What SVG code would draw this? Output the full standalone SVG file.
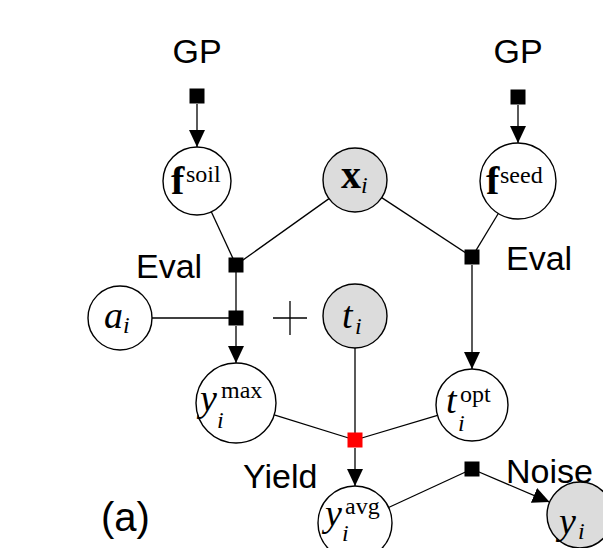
<svg xmlns="http://www.w3.org/2000/svg" width="603" height="548" viewBox="0 0 603 548">
  <style>
    .edge { stroke: #000; stroke-width: 1.3; fill: none; }
    .var { fill: #fff; stroke: #000; stroke-width: 1.4; }
    .obs { fill: #dcdcdc; stroke: #000; stroke-width: 1.4; }
    .fac { fill: #000; }
    .lab { font-family: "Liberation Sans", Arial, sans-serif; font-size: 34px; fill: #000; }
    .mi { font-family: "Liberation Serif", "Times New Roman", serif; font-style: italic; font-size: 38px; fill: #000; }
    .mb { font-family: "Liberation Serif", "Times New Roman", serif; font-weight: bold; font-size: 40px; fill: #000; }
    .sub { font-family: "Liberation Serif", "Times New Roman", serif; font-style: italic; font-size: 24px; fill: #000; }
    .sup { font-family: "Liberation Serif", "Times New Roman", serif; font-size: 24px; fill: #000; }
  </style>
  <defs>
    <marker id="arrow" markerUnits="userSpaceOnUse" markerWidth="17" markerHeight="16" refX="17" refY="8" orient="auto">
      <path d="M0,0 L17,8 L0,16 z" fill="#000"/>
    </marker>
  </defs>
  <rect width="603" height="548" fill="#fff"/>

  <!-- connectors -->
  <g id="edges">
    <line class="edge" x1="197" y1="104" x2="197" y2="147" marker-end="url(#arrow)"/>
    <line class="edge" x1="518" y1="105" x2="518" y2="143" marker-end="url(#arrow)"/>
    <line class="edge" x1="211.3" y1="211.8" x2="236" y2="265"/>
    <line class="edge" x1="329" y1="198.6" x2="236" y2="265"/>
    <line class="edge" x1="381.7" y1="197.6" x2="472" y2="257"/>
    <line class="edge" x1="498.3" y1="213.5" x2="472" y2="257"/>
    <line class="edge" x1="236" y1="265" x2="236" y2="318"/>
    <line class="edge" x1="152" y1="318" x2="236" y2="318"/>
    <line class="edge" x1="236" y1="326" x2="236" y2="363" marker-end="url(#arrow)"/>
    <line class="edge" x1="472" y1="265" x2="472" y2="369" marker-end="url(#arrow)"/>
    <line class="edge" x1="355" y1="348" x2="355" y2="440"/>
    <line class="edge" x1="274.2" y1="414.9" x2="355" y2="440"/>
    <line class="edge" x1="437.5" y1="415.3" x2="355" y2="440"/>
    <line class="edge" x1="355" y1="448" x2="355" y2="486" marker-end="url(#arrow)"/>
    <line class="edge" x1="388.6" y1="507.5" x2="472" y2="469"/>
    <line class="edge" x1="472" y1="469" x2="549.6" y2="502.1" marker-end="url(#arrow)"/>
  </g>

  <!-- factor nodes -->
  <g id="gp-soil"><rect class="fac" x="189.5" y="88.5" width="15" height="15"/><text class="lab" x="197" y="63" text-anchor="middle">GP</text></g>
  <g id="gp-seed"><rect class="fac" x="510.5" y="89.5" width="15" height="15"/><text class="lab" x="518" y="63" text-anchor="middle">GP</text></g>
  <g id="eval-left"><rect class="fac" x="228.5" y="257.5" width="15" height="15"/><text class="lab" x="136" y="278">Eval</text></g>
  <g id="sum"><rect class="fac" x="228.5" y="310.5" width="15" height="15"/>
    <line class="edge" x1="273" y1="318" x2="307" y2="318" stroke-width="1.6"/>
    <line class="edge" x1="290" y1="301" x2="290" y2="335" stroke-width="1.6"/></g>
  <g id="eval-right"><rect class="fac" x="464.5" y="249.5" width="15" height="15"/><text class="lab" x="506" y="270">Eval</text></g>
  <g id="yield"><rect x="347.5" y="432.5" width="15" height="15" fill="#ff0000"/><text class="lab" x="243" y="488">Yield</text></g>
  <g id="noise"><rect class="fac" x="464.5" y="461.5" width="15" height="15"/><text class="lab" x="506" y="483">Noise</text></g>

  <!-- variable nodes -->
  <g id="f-soil"><circle class="var" cx="197" cy="181" r="34"/>
    <text class="mb" x="171" y="194">f</text><text class="sup" x="186" y="182">soil</text></g>
  <g id="x-i"><circle class="obs" cx="355" cy="180" r="32"/>
    <text class="mb" x="341" y="188">x</text><text class="sub" x="361" y="193">i</text></g>
  <g id="f-seed"><circle class="var" cx="518" cy="181" r="38"/>
    <text class="mb" x="486" y="194">f</text><text class="sup" x="500" y="183">seed</text></g>
  <g id="a-i"><circle class="var" cx="120" cy="318" r="32"/>
    <text class="mi" x="104" y="328">a</text><text class="sub" x="123" y="333">i</text></g>
  <g id="t-i"><circle class="obs" cx="355" cy="316" r="32"/>
    <text class="mi" x="342" y="328">t</text><text class="sub" x="355" y="334">i</text></g>
  <g id="y-max"><circle class="var" cx="236" cy="403" r="40"/>
    <text class="mi" x="200" y="411">y</text><text class="sub" x="217" y="428">i</text><text class="sup" x="221" y="398">max</text></g>
  <g id="t-opt"><circle class="var" cx="472" cy="405" r="36"/>
    <text class="mi" x="446" y="413">t</text><text class="sub" x="458" y="431">i</text><text class="sup" x="460" y="402">opt</text></g>
  <g id="y-avg"><circle class="var" cx="355" cy="523" r="37"/>
    <text class="mi" x="325" y="526">y</text><text class="sub" x="342" y="541">i</text><text class="sup" x="345" y="514">avg</text></g>
  <g id="y-i"><circle class="obs" cx="580" cy="515" r="33"/>
    <text class="mi" x="559" y="534">y</text><text class="sub" x="578" y="539">i</text></g>

  <text class="lab" x="101" y="531" style="font-size:40px">(a)</text>
</svg>
